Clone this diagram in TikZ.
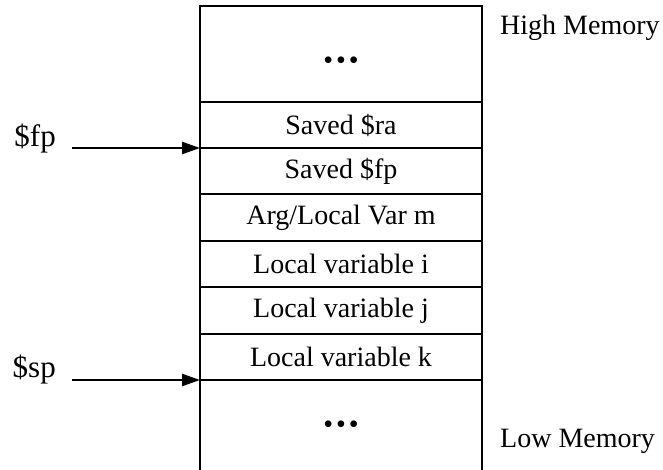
\documentclass[tikz,border=0pt]{standalone}
\usepackage{fontspec}
\setmainfont{Liberation Serif}
\usetikzlibrary{arrows.meta}
\newcommand{\mydots}{\fontsize{28}{28}\selectfont\textbullet\hspace{3pt}\textbullet\hspace{3pt}\textbullet}
\begin{document}
\begin{tikzpicture}[x=1pt,y=-1pt,
  cell/.style={draw, line width=1.6pt, minimum width=282pt, outer sep=0pt, inner sep=0pt, font=\fontsize{28}{30}\selectfont},
  side/.style={font=\fontsize{28}{30}\selectfont, inner sep=0pt, anchor=base west},
  reg/.style={font=\fontsize{31}{33}\selectfont, inner sep=0pt, anchor=base east},
  ptr/.style={line width=2.4pt, -{Triangle[length=18pt,width=12pt]}}]
\useasboundingbox (0,0) rectangle (663,470);
\node[cell, minimum height=96pt, anchor=north west] (top) at (200,6) {\raisebox{-16pt}[0pt][0pt]{\mydots}};
\node[cell, minimum height=46pt, anchor=north] (ra) at (top.south) {Saved \$ra};
\node[cell, minimum height=46pt, anchor=north] (sfp) at (ra.south) {Saved \$fp};
\node[cell, minimum height=47pt, anchor=north] (m) at (sfp.south) {Arg/Local Var m};
\node[cell, minimum height=46pt, anchor=north] (i) at (m.south) {Local variable i};
\node[cell, minimum height=47pt, anchor=north] (j) at (i.south) {Local variable j};
\node[cell, minimum height=46pt, anchor=north] (k) at (j.south) {Local variable k};
\node[cell, minimum height=96pt, anchor=north] (bot) at (k.south) {\raisebox{-5pt}[0pt][0pt]{\mydots}};
\node[side] (hi) at (500,35) {High Memory};
\node[side] (lo) at (500,447) {Low Memory};
\node[reg] (fp) at (56,147) {\$fp};
\node[reg] (sp) at (56,377) {\$sp};
\coordinate (fpa) at ([xshift=-128pt]ra.south west);
\coordinate (spa) at ([xshift=-128pt]k.south west);
\draw[ptr] (fpa) -- (ra.south west);
\draw[ptr] (spa) -- (k.south west);
\end{tikzpicture}
\end{document}
